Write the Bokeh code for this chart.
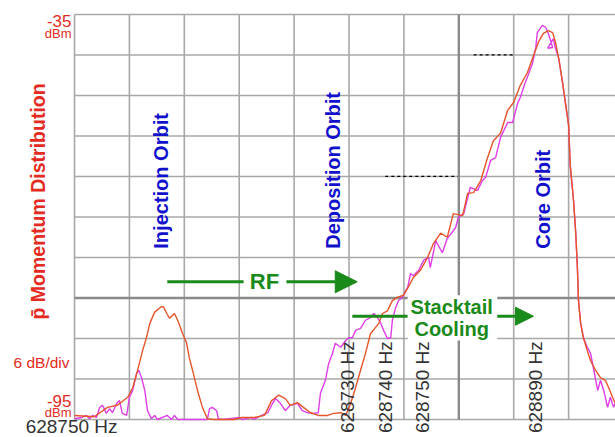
from math import pi
from bokeh.plotting import figure
from bokeh.models import Range1d, Label, Arrow, NormalHead, BoxAnnotation
from bokeh.embed import file_html
from bokeh.resources import INLINE

# x: frequency position in screen divisions (0 = left edge of the display), y: power in dBm
orange_x = [0.00, 0.36, 0.60, 0.78, 0.97, 1.06, 1.15, 1.24, 1.31, 1.37, 1.46, 1.58, 1.62, 1.68, 1.73, 1.82,
            1.88, 1.97, 2.04, 2.09, 2.15, 2.24, 2.33, 2.42, 2.55, 2.91, 3.04, 3.28, 3.46, 3.59, 3.64, 3.72,
            3.84, 3.93, 4.06, 4.17, 4.30, 4.44, 4.61, 4.72, 4.85, 4.94, 5.03, 5.12, 5.21, 5.30, 5.39, 5.48,
            5.54, 5.61, 5.70, 5.79, 5.88, 5.99, 6.08, 6.17, 6.30, 6.43, 6.54, 6.67, 6.79, 6.90, 7.07, 7.16,
            7.27, 7.40, 7.52, 7.63, 7.76, 7.89, 8.00, 8.12, 8.25, 8.36, 8.45, 8.54, 8.63, 8.71, 8.76, 8.82,
            8.89, 8.94, 9.00, 9.03, 9.09, 9.13, 9.16, 9.18, 9.22, 9.27, 9.34, 9.40, 9.49, 9.58, 9.67, 9.73,
            9.80, 9.85]
orange_y = [-94.4, -94.6, -93.2, -92.9, -91.7, -90.3, -87.7, -84.8, -82.9, -80.8, -79.1, -78.3, -78.3, -79.3,
            -80.0, -79.3, -80.3, -82.3, -83.6, -85.8, -87.7, -90.7, -93.2, -94.9, -95.0, -95.0, -94.7, -94.7,
            -94.4, -92.2, -91.9, -91.4, -91.9, -92.9, -92.5, -93.2, -94.0, -94.4, -94.4, -94.1, -94.0, -94.4,
            -92.6, -90.3, -87.7, -85.2, -82.3, -81.4, -80.8, -79.3, -78.9, -77.4, -76.9, -76.6, -75.4, -74.0,
            -72.9, -71.0, -68.9, -67.4, -68.0, -64.5, -64.8, -61.5, -61.4, -59.6, -56.3, -53.7, -52.6, -49.2,
            -48.0, -45.5, -43.6, -41.1, -39.1, -37.8, -37.4, -37.7, -39.1, -41.5, -45.1, -48.0, -51.4, -57.4,
            -62.6, -67.4, -72.5, -77.4, -80.8, -82.9, -84.8, -86.3, -87.7, -88.8, -89.2, -90.3, -91.7, -92.6]

magenta_x = [0.00, 0.13, 0.22, 0.27, 0.33, 0.40, 0.46, 0.51, 0.58, 0.64,
             0.69, 0.77, 0.82, 0.87, 0.95, 1.00, 1.06, 1.13, 1.17, 1.22,
             1.28, 1.33, 1.40, 1.46, 1.51, 1.69, 1.77, 1.82, 1.88, 2.42,
             2.46, 2.51, 2.59, 2.62, 2.70, 3.01, 3.05, 3.22, 3.26, 3.41,
             3.52, 3.61, 3.66, 3.75, 3.84, 3.93, 4.06, 4.15, 4.24, 4.35,
             4.44, 4.48, 4.57, 4.63, 4.70, 4.75, 4.85, 4.94, 4.99, 5.06,
             5.12, 5.21, 5.30, 5.39, 5.45, 5.52, 5.57, 5.63, 5.70, 5.76,
             5.79, 5.85, 5.90, 5.97, 6.07, 6.12, 6.17, 6.27, 6.36, 6.45,
             6.48, 6.58, 6.70, 6.79, 6.94, 6.99, 7.09, 7.21, 7.34, 7.43,
             7.49, 7.58, 7.67, 7.76, 7.89, 7.98, 8.07, 8.12, 8.21, 8.34,
             8.40, 8.43, 8.52, 8.58, 8.63, 8.71, 8.62, 8.72, 8.76, 8.82,
             8.89, 8.94, 9.00, 9.03, 9.09, 9.13, 9.16, 9.18, 9.22, 9.27,
             9.34, 9.40, 9.45, 9.53, 9.58, 9.64, 9.71, 9.76, 9.82, 9.85]
magenta_y = [-94.9, -94.7, -94.4, -94.9, -94.4, -94.7, -93.2, -92.9, -94.1, -93.4,
             -94.0, -92.6, -92.2, -94.1, -94.4, -91.7, -90.7, -88.2, -87.7, -88.8,
             -90.7, -93.7, -94.9, -94.4, -95.0, -94.4, -95.0, -94.4, -95.0, -95.0,
             -93.4, -93.2, -93.7, -94.9, -95.0, -94.7, -95.0, -94.7, -95.0, -94.4,
             -94.0, -92.6, -91.9, -92.6, -93.7, -92.9, -92.6, -93.7, -94.0, -94.1,
             -94.0, -91.1, -89.2, -86.7, -85.2, -83.7, -84.3, -83.3, -82.9, -82.9,
             -81.8, -81.5, -80.3, -79.9, -79.3, -79.9, -80.6, -81.8, -83.0, -82.9,
             -80.3, -78.4, -77.4, -76.9, -75.4, -73.4, -73.7, -72.9, -71.4, -71.0,
             -72.5, -68.5, -70.3, -68.2, -66.6, -65.1, -64.5, -60.6, -61.1, -59.6,
             -59.1, -56.6, -56.2, -53.2, -51.0, -51.0, -48.2, -47.3, -45.1, -42.3,
             -40.0, -37.7, -36.6, -36.9, -37.8, -39.9, -40.0, -38.6, -40.0, -41.5,
             -45.1, -48.0, -51.4, -57.4, -62.6, -67.4, -72.5, -77.4, -80.8, -82.9,
             -84.3, -85.2, -87.3, -90.7, -89.2, -90.7, -93.2, -91.7, -93.2, -92.6]

x_divisions = [0, 1, 2, 3, 4, 5, 6, 7, 8, 9]
y_ticks_dbm = [-95, -89, -83, -77, -71, -65, -59, -53, -47, -41, -35]
top_ref, bottom_ref, scale_text = "-35", "-95", "6 dB/div"
start_freq = "628750 Hz"
marker_labels = ["628730 Hz", "628740 Hz", "628750 Hz", "628890 Hz"]
marker_pos = [4.97, 5.66, 6.34, 8.40]
orbit_labels = ["Injection Orbit", "Deposition Orbit", "Core Orbit"]
orbit_pos = [1.58, 4.71, 8.54]

RED = "#e32b22"
BLUE = "#1111cc"
GREEN = "#1a8a1a"
FONT = "Liberation Sans"

X_END = 9.854  # right edge of the visible display
p = figure(width=615, height=437, x_range=Range1d(-1.348, X_END), y_range=Range1d(-97.67, -32.93),
           output_backend="svg", toolbar_location=None, min_border=0)
p.xaxis.visible = False
p.yaxis.visible = False
p.xgrid.visible = False
p.ygrid.visible = False
p.outline_line_color = None
p.background_fill_color = "white"
p.border_fill_color = "white"

# display graticule
GRID = "#a8a8a8"
p.segment(x0=x_divisions, y0=[-95] * len(x_divisions), x1=x_divisions, y1=[-35] * len(x_divisions),
          line_color=GRID, line_width=1.6)
p.segment(x0=[0] * len(y_ticks_dbm), y0=y_ticks_dbm, x1=[X_END] * len(y_ticks_dbm), y1=y_ticks_dbm,
          line_color=GRID, line_width=1.6)
p.segment(x0=[7, 0], y0=[-95, -77], x1=[7, X_END], y1=[-35, -77], line_color="#8a8a8a", line_width=2.4)

# analyser reference marks (dashed)
p.segment(x0=[7.27, 5.66], y0=[-41, -59], x1=[8.0, 6.98], y1=[-41, -59],
          line_color="black", line_width=1.2, line_dash="3 3")

p.line(magenta_x, magenta_y, line_color="#de3ee6", line_width=1.4)
p.line(orange_x, orange_y, line_color="#e4552a", line_width=1.4)

# white box behind the Stacktail Cooling text
p.add_layout(BoxAnnotation(left=6.07, right=7.70, top=-76.6, bottom=-83.3,
                           fill_color="white", fill_alpha=1, line_color=None))


def lab(text, x, y, size, color, align="left", baseline="middle", angle=0.0, style="normal"):
    p.add_layout(Label(x=x, y=y, text=text, text_font=FONT, text_font_size=f"{size}px",
                       text_color=color, text_align=align, text_baseline=baseline,
                       angle=angle, text_font_style=style))


lab(top_ref, -0.055, -35.9, 17, RED, align="right")
lab("dBm", -0.055, -37.8, 13, RED, align="right")
lab(scale_text, -0.09, -86.6, 15.5, RED, align="right")
lab(bottom_ref, -0.055, -92.2, 17, RED, align="right")
lab("dBm", -0.055, -94.0, 13, RED, align="right")
lab(start_freq, -0.89, -94.45, 19, "#333333", baseline="top")
lab("p\u0304 Momentum Distribution", -0.67, -62.7, 19.5, RED, align="center", angle=pi / 2, style="bold")

for t, xpos in zip(marker_labels, marker_pos):
    lab(t, xpos, -83.4, 19, "#333333", align="right", angle=pi / 2)
for t, xpos in zip(orbit_labels, orbit_pos):
    lab(t, xpos, -69.7, 20, BLUE, align="left", angle=pi / 2, style="bold")

# RF arrow
p.segment(x0=[1.69], y0=[-74.6], x1=[3.08], y1=[-74.6], line_color=GREEN, line_width=3)
lab("RF", 3.46, -74.6, 22, GREEN, align="center", style="bold")
p.add_layout(Arrow(x_start=3.86, y_start=-74.6, x_end=5.15, y_end=-74.6, line_color=GREEN, line_width=3,
                   end=NormalHead(size=22, fill_color=GREEN, line_color=GREEN)))

# Stacktail cooling arrow
p.segment(x0=[5.06], y0=[-79.7], x1=[6.07], y1=[-79.7], line_color=GREEN, line_width=3)
lab("Stacktail", 6.87, -78.3, 20, GREEN, align="center", style="bold")
lab("Cooling", 6.87, -81.6, 20, GREEN, align="center", style="bold")
p.add_layout(Arrow(x_start=7.70, y_start=-79.7, x_end=8.36, y_end=-79.7, line_color=GREEN, line_width=3,
                   end=NormalHead(size=18, fill_color=GREEN, line_color=GREEN)))

open("out.html", "w").write(file_html(p, INLINE))
